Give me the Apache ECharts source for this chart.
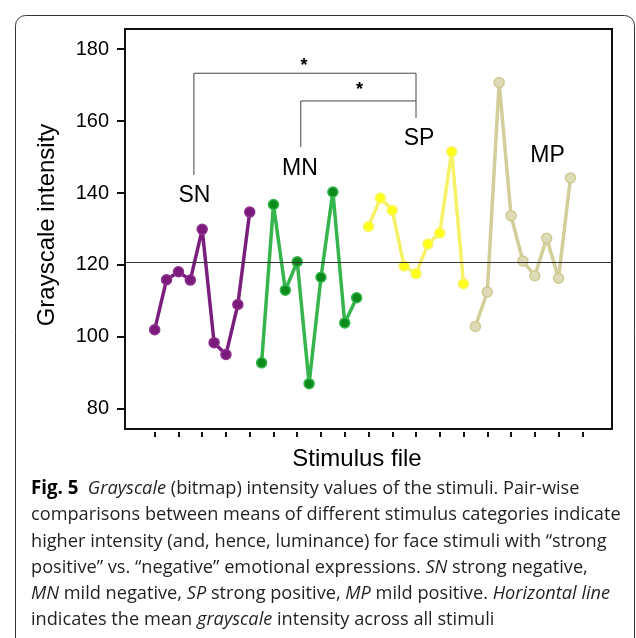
<!DOCTYPE html>
<html>
<head>
<meta charset="utf-8">
<title>Grayscale intensity of stimuli</title>
<script src="https://cdn.jsdelivr.net/npm/echarts@6/dist/echarts.min.js"></script>
<style>
  html, body { margin: 0; padding: 0; background: #fff; }
  #chart { width: 636px; height: 638px; }
</style>
</head>
<body>
<div id="chart"></div>
<script>
  // grayscale (bitmap) intensity of each stimulus file, per category
  var snValues = [102.0, 115.9, 118.1, 115.8, 129.9, 98.4, 95.1, 109.0, 134.7]
  var mnValues = [92.8, 136.8, 113.0, 120.9, 87.0, 116.6, 140.3, 103.9, 110.9]
  var spValues = [130.7, 138.6, 135.2, 119.7, 117.6, 125.8, 128.9, 151.5, 114.8]
  var mpValues = [102.9, 112.5, 170.7, 133.7, 121.1, 117.0, 127.4, 116.3, 144.2]
  var groupNames = ['SN', 'MN', 'SP', 'MP']
  var groupStart = [1, 10, 19, 28] // first stimulus file number of each group

  var yTicks = [80, 100, 120, 140, 160, 180]
  var xTicks = [1, 3, 5, 7, 9, 11, 13, 15, 17, 19, 21, 23, 25, 27, 29, 31, 33, 35, 37]

  // significance brackets (file number, intensity)
  var outerBracket = [[4.3, 145], [4.3, 173.3], [23, 173.3], [23, 160.9]]
  var innerBracket = [[13.3, 152.8], [13.3, 165.6], [23, 165.6]]

  var captionLines = [
    '{b|Fig. 5}  {i|Grayscale} (bitmap) intensity values of the stimuli. Pair-wise',
    'comparisons between means of different stimulus categories indicate',
    'higher intensity (and, hence, luminance) for face stimuli with \u201cstrong',
    'positive\u201d vs. \u201cnegative\u201d emotional expressions. {i|SN} strong negative,',
    '{i|MN} mild negative, {i|SP} strong positive, {i|MP} mild positive. {i|Horizontal line}',
    'indicates the mean {i|grayscale} intensity across all stimuli'
  ]

  var allValues = snValues.concat(mnValues, spValues, mpValues)
  var meanValue = allValues.reduce(function (a, b) { return a + b }, 0) / allValues.length

  function toPairs(values, start) {
    return values.map(function (v, i) { return [start + i, v] })
  }

  var styles = [
    { line: '#7b1f7f', fill: '#7a1a7a', border: '#8e318e' },
    { line: '#35b54b', fill: '#0c8a1c', border: '#35b54b' },
    { line: '#f6f266', fill: '#ffff1c', border: '#f8f46e' },
    { line: '#d3ce9a', fill: '#dfdbb6', border: '#cfca93' }
  ]

  var groupValues = [snValues, mnValues, spValues, mpValues]
  var series = groupValues.map(function (vals, g) {
    var s = {
      name: groupNames[g],
      type: 'line',
      data: toPairs(vals, groupStart[g]),
      symbol: 'circle',
      symbolSize: 10,
      showAllSymbol: true,
      z: 3,
      lineStyle: { color: styles[g].line, width: 3.5 },
      itemStyle: { color: styles[g].fill, borderColor: styles[g].border, borderWidth: 1.5 }
    }
    if (g === 0) {
      s.markLine = {
        silent: true,
        symbol: 'none',
        label: { show: false },
        lineStyle: { color: '#333', width: 1, type: 'solid' },
        data: [{ yAxis: meanValue }]
      }
    }
    return s
  })

  ;[outerBracket, innerBracket].forEach(function (b) {
    series.push({
      type: 'line',
      data: b,
      symbol: 'none',
      silent: true,
      z: 1,
      lineStyle: { color: '#444', width: 1 }
    })
  })

  var textFont = '"Liberation Sans", Arial, sans-serif'
  var capFont = '"Open Sans", sans-serif'
  var capSize = 18.2

  var graphics = [
    {
      type: 'rect',
      shape: { x: 15.5, y: 15.5, width: 619, height: 660, r: 10 },
      style: { fill: null, stroke: '#333', lineWidth: 1 },
      silent: true
    },
    {
      type: 'text',
      x: 47, y: 225, rotation: Math.PI / 2,
      style: { text: 'Grayscale intensity', font: '24px ' + textFont, fill: '#000', align: 'center', verticalAlign: 'middle' }
    },
    {
      type: 'text',
      x: 357, y: 459,
      style: { text: 'Stimulus file', font: '24px ' + textFont, fill: '#000', align: 'center', verticalAlign: 'middle' }
    },
    { type: 'text', x: 194.5, y: 196, style: { text: 'SN', font: '23px ' + textFont, fill: '#000', align: 'center', verticalAlign: 'middle' } },
    { type: 'text', x: 300, y: 169, style: { text: 'MN', font: '23px ' + textFont, fill: '#000', align: 'center', verticalAlign: 'middle' } },
    { type: 'text', x: 419, y: 139, style: { text: 'SP', font: '23px ' + textFont, fill: '#000', align: 'center', verticalAlign: 'middle' } },
    { type: 'text', x: 547.5, y: 156, style: { text: 'MP', font: '23px ' + textFont, fill: '#000', align: 'center', verticalAlign: 'middle' } },
    { type: 'text', x: 304, y: 66, style: { text: '*', font: 'bold 18px ' + textFont, fill: '#000', align: 'center', verticalAlign: 'middle' } },
    { type: 'text', x: 359.5, y: 90, style: { text: '*', font: 'bold 18px ' + textFont, fill: '#000', align: 'center', verticalAlign: 'middle' } }
  ]

  captionLines.forEach(function (line, i) {
    graphics.push({
      type: 'text',
      x: 31, y: 489 + i * 26.2,
      style: {
        text: line,
        fontFamily: capFont,
        fontSize: capSize,
        fill: '#231f20',
        verticalAlign: 'middle',
        rich: {
          b: { fontFamily: capFont, fontSize: capSize + 0.5, fontWeight: 'bold', fill: '#000' },
          i: { fontFamily: capFont, fontSize: capSize, fontStyle: 'italic', fill: '#231f20' }
        }
      }
    })
  })

  var chart = echarts.init(document.getElementById('chart'))
  chart.setOption({
    animation: false,
    backgroundColor: '#fff',
    grid: {
      left: 125, top: 29, width: 487, height: 400,
      show: true,
      borderColor: '#111',
      borderWidth: 2
    },
    xAxis: {
      type: 'value',
      min: -1.5,
      max: 39.5,
      offset: 3,
      axisLine: { show: false, onZero: false },
      axisTick: { show: true, length: 5, customValues: xTicks, lineStyle: { color: '#111', width: 2 } },
      axisLabel: { show: false },
      splitLine: { show: false }
    },
    yAxis: {
      type: 'value',
      min: 74.4,
      max: 185.6,
      axisLine: { show: false, onZero: false },
      axisTick: { show: true, length: 8, customValues: yTicks, lineStyle: { color: '#111', width: 2 } },
      axisLabel: { customValues: yTicks, margin: 16, color: '#000', fontSize: 20, fontFamily: textFont },
      splitLine: { show: false }
    },
    series: series,
    graphic: graphics
  })
</script>
</body>
</html>
